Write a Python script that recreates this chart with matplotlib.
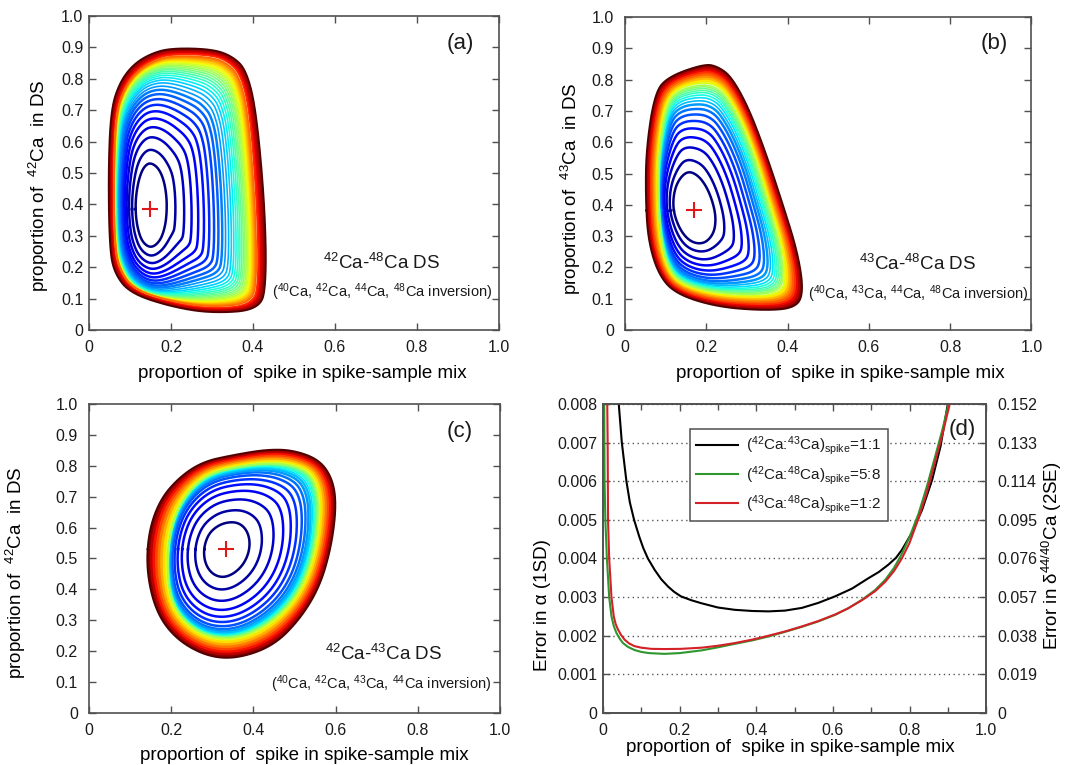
import numpy as np
import matplotlib

matplotlib.use("Agg")
import matplotlib.pyplot as plt
import matplotlib.ticker as mticker

plt.rcParams["font.family"] = ["Liberation Sans", "DejaVu Sans"]
plt.rcParams["mathtext.fontset"] = "custom"
plt.rcParams["mathtext.rm"] = "Liberation Sans"
plt.rcParams["mathtext.it"] = "Liberation Sans:italic"
plt.rcParams["text.color"] = "#1a1a1a"

# ---- panel (a): 42Ca-48Ca DS, outlines (x, y)
A_CENTER = (0.148, 0.385)
A_INNER = [(0.149, 0.534), (0.169, 0.517), (0.182, 0.48), (0.189, 0.43), (0.19, 0.38),
           (0.186, 0.33), (0.174, 0.284), (0.152, 0.26), (0.13, 0.279), (0.118, 0.325),
           (0.113, 0.38), (0.115, 0.435), (0.123, 0.487), (0.134, 0.52)]
A_MID = [(0.060, 0.5), (0.065, 0.69), (0.086, 0.772), (0.117, 0.825), (0.155, 0.858),
         (0.2, 0.876), (0.3, 0.873), (0.34, 0.852), (0.368, 0.812), (0.39, 0.70),
         (0.408, 0.398), (0.412, 0.155), (0.398, 0.082), (0.3, 0.07), (0.2, 0.09),
         (0.108, 0.13), (0.075, 0.19), (0.062, 0.265)]
A_OUTER = [(0.047, 0.5), (0.053, 0.70), (0.074, 0.787), (0.107, 0.845), (0.15, 0.88),
           (0.2, 0.898), (0.3, 0.895), (0.35, 0.872), (0.384, 0.828), (0.408, 0.70),
           (0.429, 0.398), (0.433, 0.149), (0.417, 0.064), (0.3, 0.053), (0.2, 0.074),
           (0.1, 0.117), (0.062, 0.18), (0.05, 0.26)]
A_LINES = [0, 0.12, 0.22, 0.30, 0.37, 0.43, 0.485, 0.535, 0.58, 0.62, 0.655, 0.687,
           0.716, 0.742, 0.766, 0.788, 0.808, 0.827, 0.845, 0.862, 0.878, 0.893, 0.907,
           0.92, 0.933, 0.945, 0.957, 0.968, 0.979, 0.99]
A_FILLS = [0.17, 0.34, 0.5, 0.67, 0.83, 1.0]

# ---- panel (b): 43Ca-48Ca DS
B_CENTER = (0.171, 0.382)
B_INNER = [(0.158, 0.508), (0.181, 0.493), (0.201, 0.458), (0.216, 0.41), (0.224, 0.36),
           (0.22, 0.313), (0.202, 0.282), (0.18, 0.275), (0.157, 0.287), (0.137, 0.318),
           (0.122, 0.365), (0.118, 0.41), (0.124, 0.457), (0.139, 0.492)]
B_MID = [(0.19, 0.79), (0.225, 0.78), (0.25, 0.75), (0.285, 0.67), (0.32, 0.555),
         (0.35, 0.42), (0.385, 0.27), (0.395, 0.15), (0.37, 0.115), (0.30, 0.11),
         (0.21, 0.12), (0.135, 0.15), (0.105, 0.2), (0.088, 0.29), (0.082, 0.416),
         (0.083, 0.57), (0.1, 0.72), (0.13, 0.77)]
B_OUTER = [(0.196, 0.851), (0.229, 0.842), (0.262, 0.81), (0.303, 0.714), (0.344, 0.576),
           (0.385, 0.416), (0.426, 0.245), (0.44, 0.117), (0.418, 0.069), (0.336, 0.062),
           (0.221, 0.075), (0.122, 0.117), (0.081, 0.181), (0.057, 0.288), (0.051, 0.416),
           (0.052, 0.576), (0.073, 0.757), (0.106, 0.81)]
B_LINES = [0, 0.16, 0.3, 0.41, 0.505, 0.585, 0.655, 0.715, 0.765, 0.805, 0.84,
           0.87, 0.898, 0.922, 0.945, 0.966, 0.985]
B_FILLS = [0.11, 0.22, 0.33, 0.44, 0.56, 0.67, 0.78, 0.89, 1.0]

# ---- panel (c): 42Ca-43Ca DS
C_CENTER = (0.334, 0.53)
C_INNER = [(0.35, 0.619), (0.371, 0.61), (0.386, 0.586), (0.392, 0.55), (0.387, 0.51),
           (0.372, 0.474), (0.349, 0.448), (0.325, 0.438), (0.302, 0.448), (0.286, 0.474),
           (0.279, 0.51), (0.282, 0.55), (0.295, 0.587), (0.321, 0.612)]
C_MID = [(0.35, 0.795), (0.43, 0.81), (0.49, 0.805), (0.535, 0.78), (0.555, 0.73),
         (0.56, 0.66), (0.553, 0.55), (0.53, 0.44), (0.49, 0.35), (0.43, 0.28),
         (0.36, 0.24), (0.29, 0.245), (0.235, 0.29), (0.2, 0.36), (0.19, 0.46),
         (0.195, 0.57), (0.215, 0.66), (0.25, 0.73), (0.295, 0.775)]
C_OUTER = [(0.351, 0.835), (0.432, 0.853), (0.497, 0.851), (0.562, 0.819), (0.594, 0.754),
           (0.602, 0.668), (0.59, 0.539), (0.562, 0.409), (0.513, 0.302), (0.448, 0.216),
           (0.359, 0.175), (0.286, 0.183), (0.213, 0.237), (0.164, 0.323), (0.14, 0.453),
           (0.144, 0.582), (0.172, 0.69), (0.221, 0.765), (0.278, 0.814)]
C_LINES = [0, 0.16, 0.3, 0.42, 0.52, 0.605, 0.68, 0.74, 0.79, 0.83, 0.865,
           0.895, 0.92, 0.942, 0.96, 0.976, 0.99]
C_FILLS = [0.125, 0.25, 0.375, 0.5, 0.625, 0.75, 0.875, 1.0]

# ---- panel (d): error curves (y in units of 1e-3)
BLACK_X = [0.041, 0.049, 0.061, 0.07, 0.081, 0.095, 0.105, 0.117, 0.135, 0.152, 0.17,
           0.185, 0.203, 0.23, 0.257, 0.30, 0.344, 0.39, 0.432, 0.475, 0.519, 0.562,
           0.606, 0.65, 0.693, 0.72, 0.745, 0.765, 0.78, 0.806, 0.833, 0.859, 0.881, 0.9]
BLACK_Y = [8.0, 7.0, 6.0, 5.45, 5.0, 4.55, 4.27, 4.0, 3.7, 3.46, 3.27, 3.14, 3.02, 2.92,
           2.84, 2.73, 2.67, 2.64, 2.63, 2.65, 2.72, 2.85, 3.02, 3.22, 3.49, 3.65, 3.84,
           4.02, 4.22, 4.66, 5.26, 6.03, 6.9, 8.0]
GREEN_X = [0.003, 0.0035, 0.004, 0.006, 0.010, 0.016, 0.022, 0.028, 0.035, 0.043, 0.052,
           0.065, 0.082, 0.1, 0.12, 0.16, 0.2, 0.257, 0.3, 0.344, 0.39, 0.432, 0.475,
           0.519, 0.562, 0.606, 0.64, 0.676, 0.71, 0.737, 0.76, 0.78, 0.8, 0.824, 0.845,
           0.867, 0.885, 0.902]
GREEN_Y = [8.0, 7.0, 6.0, 5.0, 4.0, 3.0, 2.5, 2.25, 2.07, 1.93, 1.81, 1.71, 1.63, 1.58,
           1.55, 1.53, 1.55, 1.62, 1.7, 1.79, 1.88, 1.98, 2.1, 2.23, 2.37, 2.54, 2.71,
           2.93, 3.18, 3.45, 3.76, 4.12, 4.55, 5.17, 5.85, 6.64, 7.3, 8.0]
RED_X = [0.011, 0.012, 0.0125, 0.013, 0.016, 0.022, 0.028, 0.033, 0.039, 0.047, 0.056,
         0.068, 0.082, 0.1, 0.126, 0.16, 0.203, 0.257, 0.3, 0.344, 0.39, 0.432, 0.475,
         0.519, 0.562, 0.606, 0.64, 0.676, 0.71, 0.737, 0.76, 0.78, 0.8, 0.824, 0.845,
         0.867, 0.887, 0.905]
RED_Y = [8.0, 7.0, 6.0, 5.0, 4.0, 3.0, 2.5, 2.3, 2.16, 2.02, 1.9, 1.8, 1.73, 1.69, 1.66,
         1.655, 1.66, 1.69, 1.74, 1.81, 1.9, 2.0, 2.11, 2.24, 2.38, 2.55, 2.71, 2.92,
         3.15, 3.4, 3.68, 4.0, 4.4, 5.05, 5.7, 6.5, 7.25, 8.0]
LEGEND_LABELS = [r"($^{42}$Ca:$^{43}$Ca)$_{\rm spike}$=1:1",
                 r"($^{42}$Ca:$^{48}$Ca)$_{\rm spike}$=5:8",
                 r"($^{43}$Ca:$^{48}$Ca)$_{\rm spike}$=1:2"]

EDGE = "#505050"
LABEL_SIZE = 13.5
TICK_SIZE = 11.5
TH = np.linspace(-np.pi, np.pi, 1080, endpoint=False)


def radial(pts, c, sx):
    # smooth the read outline (corner cutting), then radius vs angle round the
    # optimum, measured in a frame stretched along x so the rings blend smoothly
    p = np.asarray(pts, dtype=float)
    for _ in range(6):
        q = np.roll(p, -1, axis=0)
        new = np.empty((2 * len(p), 2))
        new[0::2] = 0.75 * p + 0.25 * q
        new[1::2] = 0.25 * p + 0.75 * q
        p = new
    u = (p[:, 0] - c[0]) * sx
    v = p[:, 1] - c[1]
    ang = np.arctan2(v, u)
    o = np.argsort(ang)
    return np.interp(TH, ang[o], np.hypot(u, v)[o], period=2 * np.pi)


def ring(c, r, sx):
    x = c[0] + r * np.cos(TH) / sx
    y = c[1] + r * np.sin(TH)
    return np.append(x, x[0]), np.append(y, y[0])


def draw_ds(ax, c, inner, mid, outer, lines, fills, line_rng, fill_rng, n_thick, sx):
    r_in = radial(inner, c, sx)
    r_mid = radial(mid, c, sx)
    r_out = radial(outer, c, sx)
    grow = (r_mid / r_in).min()
    fcols = plt.cm.jet(np.linspace(fill_rng[0], fill_rng[1], len(fills)))
    for g, col in reversed(list(zip(fills, fcols))):
        ax.fill(*ring(c, r_mid + g * (r_out - r_mid), sx), color=col, lw=0, zorder=1)
    ax.fill(*ring(c, r_mid, sx), color="white", lw=0, zorder=1)
    lcols = plt.cm.jet(np.linspace(line_rng[0], line_rng[1], len(lines)))
    for k, (f, col) in enumerate(zip(lines, lcols)):
        # inner rings keep the oval shape, outer ones take on the outline shape
        w = f ** 1.25
        r = (1 - w) * r_in * (1 + f * (grow - 1)) + w * r_mid
        ax.plot(*ring(c, r, sx), color=col, lw=1.8 if k < n_thick else 1.2, zorder=2)
    ax.plot(*ring(c, r_out, sx), color="#500000", lw=1.3, zorder=2)
    ax.plot(c[0], c[1], "+", color="#e01818", ms=11, mew=1.5, zorder=3)


def frame(ax, ypad):
    ax.set_xlim(0, 1)
    ax.set_ylim(0, 1)
    ax.set_xticks(np.arange(0, 1.01, 0.2))
    ax.set_yticks(np.arange(0, 1.01, 0.1))
    fmt = mticker.FuncFormatter(lambda v, _: "0" if abs(v) < 1e-9 else f"{v:.1f}")
    ax.xaxis.set_major_formatter(fmt)
    ax.yaxis.set_major_formatter(fmt)
    ax.tick_params(direction="in", top=True, right=True, length=5, width=1,
                   color=EDGE, labelsize=TICK_SIZE, labelcolor="#1a1a1a")
    ax.tick_params(axis="x", pad=7)
    ax.tick_params(axis="y", pad=ypad)
    for s in ax.spines.values():
        s.set_color(EDGE)
        s.set_linewidth(1.2)
        s.set_zorder(5)


fig = plt.figure(figsize=(10.7, 7.65), dpi=100)
ax_a = fig.add_axes([0.0832, 0.5686, 0.383, 0.4105])
ax_b = fig.add_axes([0.584, 0.5686, 0.380, 0.409])
ax_c = fig.add_axes([0.0832, 0.068, 0.384, 0.404])
ax_d = fig.add_axes([0.5636, 0.068, 0.358, 0.404])

xlabel = "proportion of  spike in spike-sample mix"

# (a)
draw_ds(ax_a, A_CENTER, A_INNER, A_MID, A_OUTER, A_LINES, A_FILLS,
        (0, 0.8), (0.86, 1.0), 10, 2.6)
frame(ax_a, 4)
ax_a.text(0.905, 0.913, "(a)", fontsize=16, ha="center", va="center")
ax_a.text(0.715, 0.214, r"$^{42}$Ca-$^{48}$Ca DS", fontsize=13.5, ha="center", va="center")
ax_a.text(0.715, 0.12, r"($^{40}$Ca, $^{42}$Ca, $^{44}$Ca, $^{48}$Ca inversion)",
          fontsize=10.5, ha="center", va="center")
ax_a.set_xlabel(xlabel, fontsize=LABEL_SIZE)
ax_a.xaxis.set_label_coords(0.52, -0.112)
ax_a.set_ylabel(r"proportion of  $^{42}$Ca  in DS", fontsize=LABEL_SIZE)
ax_a.yaxis.set_label_coords(-0.092, 0.46)

# (b)
draw_ds(ax_b, B_CENTER, B_INNER, B_MID, B_OUTER, B_LINES, B_FILLS,
        (0, 0.55), (0.62, 1.0), 9, 2.0)
frame(ax_b, 8)
ax_b.text(0.908, 0.917, "(b)", fontsize=16, ha="center", va="center")
ax_b.text(0.721, 0.21, r"$^{43}$Ca-$^{48}$Ca DS", fontsize=13.5, ha="center", va="center")
ax_b.text(0.721, 0.115, r"($^{40}$Ca, $^{43}$Ca, $^{44}$Ca, $^{48}$Ca inversion)",
          fontsize=10.5, ha="center", va="center")
ax_b.set_xlabel(xlabel, fontsize=LABEL_SIZE)
ax_b.xaxis.set_label_coords(0.53, -0.112)
ax_b.set_ylabel(r"proportion of  $^{43}$Ca  in DS", fontsize=LABEL_SIZE)
ax_b.yaxis.set_label_coords(-0.103, 0.45)

# (c)
draw_ds(ax_c, C_CENTER, C_INNER, C_MID, C_OUTER, C_LINES, C_FILLS,
        (0, 0.55), (0.62, 1.0), 10, 1.5)
frame(ax_c, 8)
ax_c.text(0.901, 0.91, "(c)", fontsize=16, ha="center", va="center")
ax_c.text(0.718, 0.192, r"$^{42}$Ca-$^{43}$Ca DS", fontsize=13.5, ha="center", va="center")
ax_c.text(0.71, 0.094, r"($^{40}$Ca, $^{42}$Ca, $^{43}$Ca, $^{44}$Ca inversion)",
          fontsize=10.5, ha="center", va="center")
ax_c.set_xlabel(xlabel, fontsize=LABEL_SIZE)
ax_c.xaxis.set_label_coords(0.525, -0.11)
ax_c.set_ylabel(r"proportion of  $^{42}$Ca  in DS", fontsize=LABEL_SIZE)
ax_c.yaxis.set_label_coords(-0.148, 0.453)

# (d)
ax_d.plot(BLACK_X, BLACK_Y, color="black", lw=1.5, label=LEGEND_LABELS[0], zorder=3)
ax_d.plot(GREEN_X, GREEN_Y, color="#2e962e", lw=1.5, label=LEGEND_LABELS[1], zorder=3)
ax_d.plot(RED_X, RED_Y, color="#d42027", lw=1.5, label=LEGEND_LABELS[2], zorder=3)
ax_d.set_xlim(0, 1)
ax_d.set_ylim(0, 8)
ax_d.set_xticks(np.arange(0, 1.01, 0.2))
ax_d.set_xticks(np.arange(0.1, 1.0, 0.2), minor=True)
ax_d.set_yticks(np.arange(0, 8.01, 1))
ax_d.xaxis.set_major_formatter(mticker.FuncFormatter(
    lambda v, _: "0" if abs(v) < 1e-9 else f"{v:.1f}"))
ax_d.yaxis.set_major_formatter(mticker.FuncFormatter(
    lambda v, _: "0" if abs(v) < 1e-9 else f"{v / 1000:.3f}"))
ax_d.tick_params(direction="in", top=True, length=5, width=1, color=EDGE,
                 labelsize=TICK_SIZE, labelcolor="#1a1a1a")
ax_d.tick_params(which="minor", direction="in", top=True, length=4, width=1, color=EDGE)
ax_d.tick_params(axis="x", pad=7)
ax_d.tick_params(axis="y", pad=4)
ax_d.grid(axis="y", color="#555555", linestyle=(0, (1, 2.5)), linewidth=1)
for s in ax_d.spines.values():
    s.set_color(EDGE)
    s.set_linewidth(1.2)

ax_r = ax_d.twinx()
ax_r.set_ylim(0, 0.152)
ax_r.set_yticks(np.arange(0, 0.1521, 0.019))
ax_r.yaxis.set_major_formatter(mticker.FuncFormatter(
    lambda v, _: "0" if abs(v) < 1e-9 else f"{v:.3f}"))
ax_r.tick_params(direction="in", length=5, width=1, color=EDGE, labelsize=TICK_SIZE,
                 labelcolor="#1a1a1a", pad=8)
for s in ax_r.spines.values():
    s.set_color(EDGE)
    s.set_linewidth(1.2)

leg = ax_d.legend(loc="upper left", bbox_to_anchor=(0.227, 0.625, 0.516, 0.294),
                  mode="expand", fontsize=11, frameon=True, fancybox=False,
                  framealpha=1, edgecolor=EDGE, handlelength=2.8, handletextpad=0.5,
                  labelspacing=0.41, borderpad=0.36, borderaxespad=0)
leg.get_frame().set_linewidth(1.1)
leg.set_zorder(6)
ax_d.text(0.937, 7.33, "(d)", fontsize=16, ha="center", va="center")
ax_d.set_xlabel(xlabel, fontsize=LABEL_SIZE)
ax_d.xaxis.set_label_coords(0.488, -0.085)
ax_d.set_ylabel("Error in α (1SD)", fontsize=LABEL_SIZE)
ax_d.yaxis.set_label_coords(-0.136, 0.35)
ax_r.set_ylabel(r"Error in δ$^{44/40}$Ca (2SE)", fontsize=LABEL_SIZE)
ax_r.yaxis.set_label_coords(1.141, 0.51)

fig.savefig("out.png", dpi=100)
